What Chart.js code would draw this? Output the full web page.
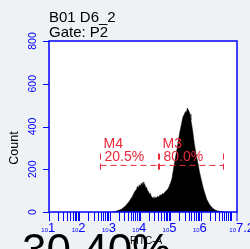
<!DOCTYPE html>
<html><head><meta charset="utf-8">
<script src="https://cdn.jsdelivr.net/npm/chart.js@4.4.1/dist/chart.umd.min.js"></script>
<style>html,body{margin:0;padding:0;background:#eef2f5;overflow:hidden}#w{width:250px;height:249px;position:relative}</style>
</head><body><div id="w"><canvas id="c" width="250" height="249"></canvas></div>
<script>
// histogram: log10 of intensity, counts
const logBins = [3.10,3.20,3.30,3.40,3.45,3.50,3.55,3.60,3.65,3.70,3.75,3.80,3.84,3.88,3.92,3.95,3.98,4.02,4.05,4.08,4.10,4.13,4.16,4.19,4.22,4.25,4.28,4.31,4.34,4.37,4.40,4.43,4.46,4.49,4.52,4.55,4.58,4.62,4.66,4.70,4.74,4.78,4.82,4.86,4.90,4.94,4.98,5.02,5.06,5.10,5.14,5.18,5.22,5.26,5.30,5.34,5.38,5.42,5.46,5.50,5.53,5.56,5.59,5.62,5.65,5.68,5.71,5.74,5.77,5.80,5.84,5.88,5.92,5.96,6.00,6.04,6.08,6.12,6.16,6.20,6.25,6.30,6.35,6.40,6.45,6.50,6.56,6.62,6.70,6.80];
const counts = [0,3,8,14,20,26,33,42,50,62,72,88,98,104,120,112,128,122,135,128,140,124,130,112,116,100,96,84,88,74,70,64,72,62,70,66,74,70,80,78,86,84,94,98,104,112,126,140,160,196,228,262,292,326,364,392,420,446,456,470,464,486,478,470,458,430,404,378,344,312,280,248,222,190,164,140,116,96,78,60,46,34,24,18,12,8,5,3,1,0];
const xTickValues = [1,2,3,4,5,6,7.2];
const xTickLabels = ["1","2","3","4","5","6","7.2"];
const yTickValues = [0,200,400,600,800];
const yTickLabels = ["0","200","400","600","800"];
const markerNames = ["M4","M3"];
const markerPercents = ["20.5%","80.0%"];
const markerStart = [2.68,4.63];
const markerEnd = [4.60,6.74];
const markerLevel = 218;
const titleLines = ["B01 D6_2","Gate: P2"];
const yTitle = "Count";
const xTitle = "FITC-A";
const bigText = "30.40%";

const BLUE = '#0000ff', RED = '#e8283a';
const FONT = '"Liberation Sans", Arial, sans-serif';

const deco = {
  id:'deco',
  beforeDraw(ch){
    const {ctx, chartArea:a} = ch;
    ctx.save();
    ctx.fillStyle = '#eef2f5'; ctx.fillRect(0,0,ch.width,ch.height);
    ctx.fillStyle = '#ffffff'; ctx.fillRect(a.left,a.top,a.right-a.left,a.bottom-a.top);
    ctx.restore();
  },
  afterDraw(ch){
    const {ctx, chartArea:a} = ch;
    const xs = ch.scales.x, ys = ch.scales.y;
    ctx.save();
    // markers
    ctx.strokeStyle = RED; ctx.lineWidth = 1; ctx.setLineDash([6,4]);
    const ly = ys.getPixelForValue(markerLevel);
    const top = ys.getPixelForValue(markerLevel+55), bot = ys.getPixelForValue(markerLevel-38);
    for (let i=0;i<markerNames.length;i++){
      const x0 = Math.round(xs.getPixelForValue(markerStart[i]))+0.5;
      const x1 = Math.round(xs.getPixelForValue(markerEnd[i]))+0.5;
      ctx.beginPath(); ctx.moveTo(x0,ly); ctx.lineTo(x1,ly); ctx.stroke();
      ctx.beginPath(); ctx.moveTo(x0,top); ctx.lineTo(x0,bot); ctx.stroke();
      ctx.beginPath(); ctx.moveTo(x1,top); ctx.lineTo(x1,bot); ctx.stroke();
      ctx.fillStyle = RED; ctx.font = '14px '+FONT; ctx.textAlign='left'; ctx.textBaseline='alphabetic';
      ctx.fillText(markerNames[i], x0+3, ly-17);
      ctx.fillText(markerPercents[i], x0+4, ly-4);
    }
    ctx.setLineDash([]);
    // frame
    ctx.strokeStyle = BLUE; ctx.lineWidth = 1.5;
    ctx.strokeRect(a.left, a.top, a.right-a.left, a.bottom-a.top);
    // x ticks
    ctx.lineWidth = 1;
    ctx.beginPath();
    for (let n=1;n<=7;n++){
      for (let k=1;k<=9;k++){
        const v = n + Math.log10(k);
        if (v>7.2) break;
        const px = Math.round(xs.getPixelForValue(v))+0.5;
        ctx.moveTo(px,a.bottom); ctx.lineTo(px,a.bottom+9);
      }
    }
    const pe = xs.getPixelForValue(7.2);
    ctx.moveTo(pe,a.bottom); ctx.lineTo(pe,a.bottom+9);
    ctx.stroke();
    // x labels
    ctx.fillStyle = BLUE; ctx.textBaseline='alphabetic';
    for (let i=0;i<xTickValues.length;i++){
      const px = xs.getPixelForValue(xTickValues[i]);
      ctx.font = '6px '+FONT; ctx.textAlign='right';
      ctx.fillText('10', px-1, a.bottom+20);
      ctx.font = '13px '+FONT; ctx.textAlign='left';
      ctx.fillText(xTickLabels[i], px-1, a.bottom+20);
    }
    // y ticks
    ctx.beginPath();
    for (const v of yTickValues){
      const py = Math.round(ys.getPixelForValue(v))+0.5;
      ctx.moveTo(a.left-6,py); ctx.lineTo(a.left,py);
    }
    ctx.stroke();
    ctx.font = '10.5px '+FONT; ctx.textAlign='center';
    for (let i=0;i<yTickValues.length;i++){
      const py = ys.getPixelForValue(yTickValues[i]);
      ctx.save(); ctx.translate(a.left-13, py); ctx.rotate(-Math.PI/2);
      ctx.fillText(yTickLabels[i],0,0); ctx.restore();
    }
    // titles
    ctx.fillStyle = '#000';
    ctx.font = '15px '+FONT; ctx.textAlign='left';
    ctx.fillText(titleLines[0], a.left, 22);
    ctx.fillText(titleLines[1], a.left, 37);
    ctx.save(); ctx.translate(18, 148); ctx.rotate(-Math.PI/2);
    ctx.font = '12.5px '+FONT; ctx.textAlign='center'; ctx.fillText(yTitle,0,0); ctx.restore();
    ctx.font = '10px '+FONT; ctx.textAlign='center';
    ctx.fillText(xTitle, (a.left+a.right)/2+3, a.bottom+32);
    ctx.font = '44px '+FONT; ctx.textAlign='left';
    ctx.fillText(bigText, 22, 265);
    ctx.restore();
  }
};

new Chart(document.getElementById('c'), {
  type:'line',
  data:{ datasets:[{
    data: logBins.map((v,i)=>({x:v,y:counts[i]})),
    fill:'origin', backgroundColor:'#000', borderColor:'#000', borderWidth:0.5,
    pointRadius:0, tension:0
  }]},
  options:{
    responsive:false, animation:false, devicePixelRatio:1,
    layout:{padding:{left:49,right:13,top:41,bottom:37}},
    plugins:{legend:{display:false},tooltip:{enabled:false},title:{display:false}},
    scales:{
      x:{type:'linear',min:1,max:7.2,display:false},
      y:{type:'linear',min:0,max:800,display:false}
    }
  },
  plugins:[deco]
});
</script></body></html>
